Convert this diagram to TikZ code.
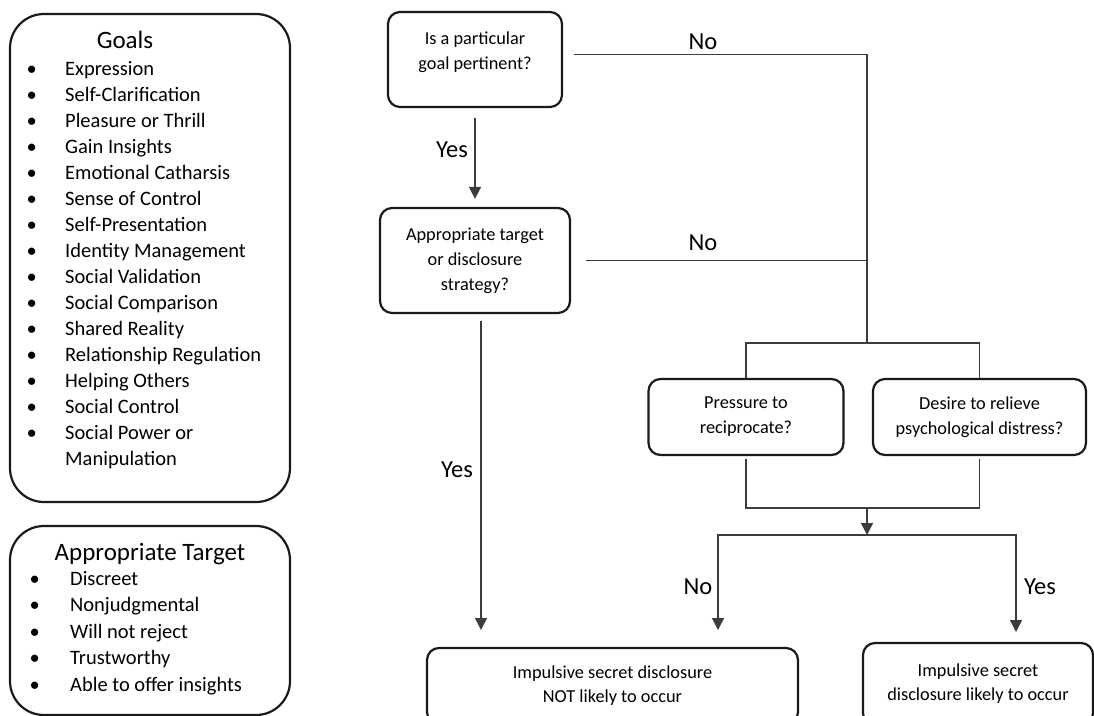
\documentclass[tikz,border=0pt]{standalone}
\usepackage{fontspec}
\setmainfont{Carlito}
\usepackage{tikz}
\usetikzlibrary{arrows.meta,positioning}
\definecolor{ink}{HTML}{1A1A1A}
\definecolor{wire}{HTML}{3C3C3C}

\begin{document}
\begin{tikzpicture}[
  x=1pt, y=-1pt,
  panel/.style={draw=ink, line width=2.2pt, rounded corners=34pt, inner sep=0pt},
  query/.style={draw=ink, line width=2.2pt, rounded corners=12pt, align=center,
                font=\fontsize{18.3}{25}\selectfont, inner sep=0pt},
  outcome/.style={query, font=\fontsize{18.3}{24}\selectfont},
  answer/.style={font=\fontsize{24.5}{28}\selectfont, inner sep=0pt},
  heading/.style={font=\fontsize{25}{30}\selectfont, anchor=base, inner sep=0pt},
  line/.style={draw=wire, line width=1.4pt},
  arrow/.style={line, -{Triangle[length=12pt, width=12pt]}}
]
  \useasboundingbox (0,0) rectangle (1094,715);
  \clip (0,0) rectangle (1094,715);

  % left panels
  \node[panel, minimum width=280pt, minimum height=488pt] (goals) at (150,258) {};
  \node[heading] (goalstitle) at (125,48) {Goals};
  \node[anchor=base west, inner sep=0pt, font=\fontsize{20.5}{26}\selectfont] (goallist) at (26.5,75)
    {\begin{tabular}[t]{@{}p{38.5pt}@{}l@{}}
      \textbullet & Expression\\
      \textbullet & Self-Clarification\\
      \textbullet & Pleasure or Thrill\\
      \textbullet & Gain Insights\\
      \textbullet & Emotional Catharsis\\
      \textbullet & Sense of Control\\
      \textbullet & Self-Presentation\\
      \textbullet & Identity Management\\
      \textbullet & Social Validation\\
      \textbullet & Social Comparison\\
      \textbullet & Shared Reality\\
      \textbullet & Relationship Regulation\\
      \textbullet & Helping Others\\
      \textbullet & Social Control\\
      \textbullet & Social Power or\\
                  & Manipulation
    \end{tabular}};

  \node[panel, minimum width=280pt, minimum height=189pt] (targets) at (150,620.5) {};
  \node[heading] (targetstitle) at (150,560) {Appropriate Target};
  \node[anchor=base west, inner sep=0pt, font=\fontsize{20.5}{26.5}\selectfont] (targetlist) at (29.5,585)
    {\begin{tabular}[t]{@{}p{40.5pt}@{}l@{}}
      \textbullet & Discreet\\
      \textbullet & Nonjudgmental\\
      \textbullet & Will not reject\\
      \textbullet & Trustworthy\\
      \textbullet & Able to offer insights
    \end{tabular}};

  % decision boxes
  \node[query, minimum width=174pt, minimum height=95pt] (goal) at (475,59.5) {Is a particular\\goal pertinent?\\[-8pt]\mbox{}};
  \node[query, minimum width=190pt, minimum height=105pt] (target) at (475,260.5) {Appropriate target\\or disclosure\\strategy?};
  \node[query, minimum width=195pt, minimum height=76pt] (pressure) at (746,417) {Pressure to\\reciprocate?};
  \node[query, minimum width=213pt, minimum height=76pt] (desire) at (979.5,417) {Desire to relieve\\psychological distress?};
  \node[outcome, minimum width=371pt, minimum height=76pt] (unlikely) at (612.5,686) {Impulsive secret disclosure\\NOT likely to occur};
  \node[outcome, minimum width=230pt, minimum height=82pt] (likely) at (978,684) {Impulsive secret\\disclosure likely to occur};

  \coordinate (split) at (867,343);
  \coordinate (merge) at (867,508);
  \coordinate (fork) at (867,535);
  \coordinate (noend) at (718,630);
  \coordinate (yesend) at (1016,632);
  \coordinate (skipend) at (481,630);

  % connectors
  \draw[arrow] ([yshift=-10pt]goal.south) -- ([yshift=8pt]target.north);
  \draw[line] ([xshift=11pt,yshift=5pt]goal.east) -| (split);
  \draw[line] ([xshift=15pt]target.east) -- (target.east -| split);
  \draw[line] (pressure.north) |- (split) -| (desire.north);
  \draw[line] ([yshift=-3pt]pressure.south) |- (merge) -| ([yshift=-3pt]desire.south);
  \draw[arrow] (merge) -- (fork);
  \draw[arrow] (fork) -| (noend);
  \draw[arrow] (fork) -| (yesend);
  \draw[arrow] ([yshift=-7pt]target.south -| skipend) -- (skipend);

  % labels
  \node[answer] (no1) at (703,42) {No};
  \node[answer] (no2) at (703,243) {No};
  \node[answer] (yes1) at (452,150) {Yes};
  \node[answer] (yes2) at (457,470) {Yes};
  \node[answer] (no3) at (698,587) {No};
  \node[answer] (yes3) at (1040,587) {Yes};
\end{tikzpicture}
\end{document}
